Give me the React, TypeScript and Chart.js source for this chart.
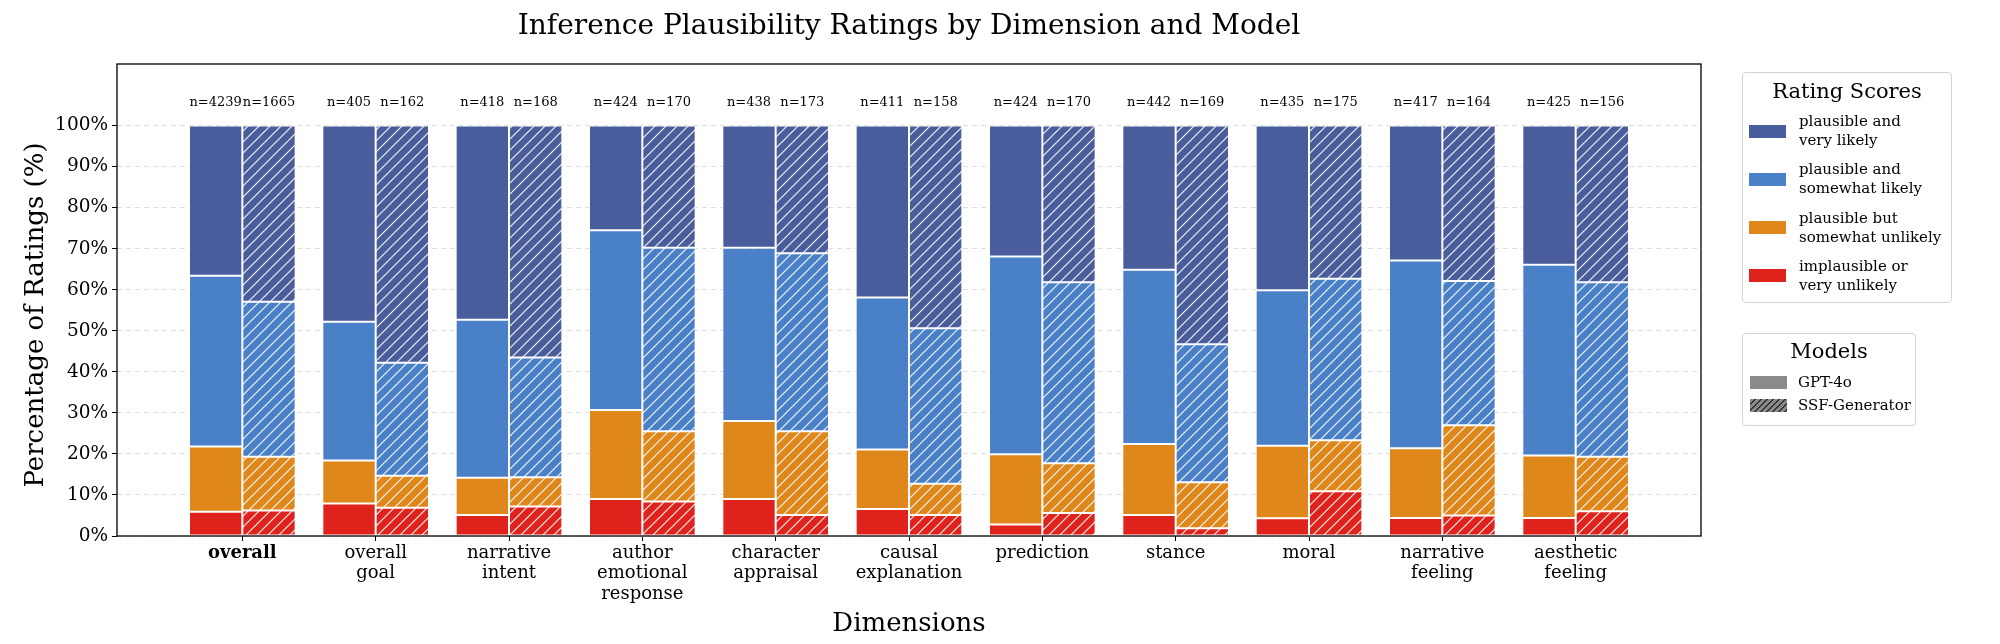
import React, { useEffect, useRef } from 'react';
import { Chart, registerables } from 'chart.js';

Chart.register(...registerables);

const FONT = "'DejaVu Serif', serif";

const chartTitle = 'Inference Plausibility Ratings by Dimension and Model';
const xTitle = 'Dimensions';
const yTitle = 'Percentage of Ratings (%)';

const categories: string[][] = [
  ['overall'],
  ['overall', 'goal'],
  ['narrative', 'intent'],
  ['author', 'emotional', 'response'],
  ['character', 'appraisal'],
  ['causal', 'explanation'],
  ['prediction'],
  ['stance'],
  ['moral'],
  ['narrative', 'feeling'],
  ['aesthetic', 'feeling'],
];

const gptN = [4239, 405, 418, 424, 438, 411, 424, 442, 435, 417, 425];
const ssfN = [1665, 162, 168, 170, 173, 158, 170, 169, 175, 164, 156];

// GPT-4o percentages (bottom to top)
const gptImplausible = [5.9, 7.9, 5.1, 9.0, 9.0, 6.6, 2.8, 5.1, 4.3, 4.4, 4.4];
const gptSomewhatUnlikely = [15.9, 10.5, 9.1, 21.7, 19.0, 14.5, 17.1, 17.3, 17.7, 17.0, 15.2];
const gptSomewhatLikely = [41.6, 33.8, 38.5, 43.8, 42.2, 37.0, 48.2, 42.5, 37.9, 45.7, 46.5];
const gptVeryLikely = [36.6, 47.8, 47.3, 25.5, 29.8, 41.9, 31.9, 35.1, 40.1, 32.9, 33.9];

// SSF-Generator percentages (bottom to top)
const ssfImplausible = [6.2, 6.9, 7.2, 8.4, 5.1, 5.1, 5.6, 1.9, 10.9, 5.0, 6.0];
const ssfSomewhatUnlikely = [13.1, 7.8, 7.1, 17.1, 20.4, 7.6, 12.1, 11.2, 12.4, 22.0, 13.3];
const ssfSomewhatLikely = [37.8, 27.5, 29.2, 44.7, 43.4, 37.9, 44.1, 33.6, 39.4, 35.1, 42.5];
const ssfVeryLikely = [42.9, 57.8, 56.5, 29.8, 31.1, 49.4, 38.2, 53.3, 37.3, 37.9, 38.2];

const yTicks = [0, 10, 20, 30, 40, 50, 60, 70, 80, 90, 100];
const yMax = 115;
const nLabelLevel = 105.6;

const ratingLabels: string[][] = [
  ['plausible and', 'very likely'],
  ['plausible and', 'somewhat likely'],
  ['plausible but', 'somewhat unlikely'],
  ['implausible or', 'very unlikely'],
];
const ratingColors = ['#495c9b', '#4a80c7', '#e0871b', '#e0221c'];
const modelLabels = ['GPT-4o', 'SSF-Generator'];

function makeHatch(bg: string, line: string, lw: number, size: number): CanvasPattern | string {
  const c = document.createElement('canvas');
  c.width = size;
  c.height = size;
  const g = c.getContext('2d');
  if (!g) return bg;
  g.fillStyle = bg;
  g.fillRect(0, 0, size, size);
  g.strokeStyle = line;
  g.lineWidth = lw;
  g.beginPath();
  g.moveTo(-1, size + 1);
  g.lineTo(size + 1, -1);
  g.moveTo(-1, 1);
  g.lineTo(1, -1);
  g.moveTo(size - 1, size + 1);
  g.lineTo(size + 1, size - 1);
  g.stroke();
  return g.createPattern(c, 'repeat') || bg;
}

const framePlugin = {
  id: 'frame',
  afterDraw(chart: any) {
    const { ctx, chartArea } = chart;
    ctx.save();
    ctx.strokeStyle = '#000';
    ctx.lineWidth = 1.3;
    ctx.strokeRect(chartArea.left, chartArea.top, chartArea.right - chartArea.left, chartArea.bottom - chartArea.top);
    ctx.restore();
  },
};

const yTitlePlugin = {
  id: 'yTitle',
  afterDraw(chart: any) {
    const { ctx, chartArea } = chart;
    ctx.save();
    ctx.font = `26px ${FONT}`;
    ctx.fillStyle = '#000';
    ctx.textAlign = 'center';
    ctx.textBaseline = 'middle';
    ctx.translate(36, (chartArea.top + chartArea.bottom) / 2 + 15);
    ctx.rotate(-Math.PI / 2);
    ctx.fillText(yTitle, 0, 0);
    ctx.restore();
  },
};

const nLabelPlugin = {
  id: 'nLabels',
  afterDatasetsDraw(chart: any) {
    const { ctx } = chart;
    const y = chart.scales.y.getPixelForValue(nLabelLevel);
    ctx.save();
    ctx.font = `13px ${FONT}`;
    ctx.fillStyle = '#000';
    ctx.textAlign = 'center';
    ctx.textBaseline = 'middle';
    const gptMeta = chart.getDatasetMeta(3);
    const ssfMeta = chart.getDatasetMeta(7);
    gptN.forEach((n, i) => {
      const el = gptMeta.data[i];
      if (el) ctx.fillText('n=' + n, el.x, y);
    });
    ssfN.forEach((n, i) => {
      const el = ssfMeta.data[i];
      if (el) ctx.fillText('n=' + n, el.x, y);
    });
    ctx.restore();
  },
};

const Legends = () => {
  const box: React.CSSProperties = {
    position: 'absolute',
    border: '1px solid #d4d4d4',
    borderRadius: 4,
    background: 'rgba(255,255,255,0.9)',
    fontFamily: FONT,
    color: '#000',
    boxSizing: 'border-box',
  };
  return (
    <>
      <div style={{ ...box, left: 1742, top: 72, width: 210, height: 231 }}>
        <div style={{ position: 'absolute', left: 0, right: 0, top: 5, textAlign: 'center', fontSize: 21, lineHeight: '26px' }}>
          Rating Scores
        </div>
        {ratingLabels.map((lab, k) => {
          const cy = 58 + k * 48.3;
          return (
            <React.Fragment key={k}>
              <div style={{ position: 'absolute', left: 6, top: cy - 6.5, width: 37, height: 13, background: ratingColors[k] }} />
              <div style={{ position: 'absolute', left: 56, top: cy - 19, fontSize: 15, lineHeight: '19px', whiteSpace: 'nowrap' }}>
                {lab[0]}
                <br />
                {lab[1]}
              </div>
            </React.Fragment>
          );
        })}
      </div>
      <div style={{ ...box, left: 1742, top: 333, width: 174, height: 93 }}>
        <div style={{ position: 'absolute', left: 0, right: 0, top: 4, textAlign: 'center', fontSize: 21, lineHeight: '26px' }}>
          Models
        </div>
        {modelLabels.map((lab, k) => {
          const cy = 48 + k * 23;
          return (
            <React.Fragment key={k}>
              <div
                style={{
                  position: 'absolute',
                  left: 7,
                  top: cy - 6.5,
                  width: 37,
                  height: 13,
                  background: k === 0 ? '#8a8a8a' : 'repeating-linear-gradient(135deg, #8a8a8a 0px, #8a8a8a 3px, #333 3px, #333 4.3px)',
                }}
              />
              <div style={{ position: 'absolute', left: 55, top: cy - 10, fontSize: 15, lineHeight: '20px', whiteSpace: 'nowrap' }}>
                {lab}
              </div>
            </React.Fragment>
          );
        })}
      </div>
    </>
  );
};

const App = () => {
  const ref = useRef<HTMLCanvasElement>(null);

  useEffect(() => {
    const canvas = ref.current;
    if (!canvas) return;
    const gptSeries = [gptImplausible, gptSomewhatUnlikely, gptSomewhatLikely, gptVeryLikely];
    const ssfSeries = [ssfImplausible, ssfSomewhatUnlikely, ssfSomewhatLikely, ssfVeryLikely];
    const colorsBottomUp = [ratingColors[3], ratingColors[2], ratingColors[1], ratingColors[0]];
    const namesBottomUp = [ratingLabels[3], ratingLabels[2], ratingLabels[1], ratingLabels[0]].map((l) => l.join(' '));

    const common = {
      borderColor: 'rgba(255,255,255,0.75)',
      borderWidth: 1,
      borderSkipped: false as const,
      categoryPercentage: 0.8,
      barPercentage: 1.0,
    };

    const datasets: any[] = [
      ...gptSeries.map((s, k) => ({
        ...common,
        label: namesBottomUp[k] + ' (GPT-4o)',
        stack: 'gpt',
        data: s.map((v, i) => ({ x: i, y: v })),
        backgroundColor: colorsBottomUp[k],
      })),
      ...ssfSeries.map((s, k) => ({
        ...common,
        label: namesBottomUp[k] + ' (SSF-Generator)',
        stack: 'ssf',
        data: s.map((v, i) => ({ x: i, y: v })),
        backgroundColor: makeHatch(colorsBottomUp[k], 'rgba(255,255,255,0.92)', 1.2, 11),
      })),
    ];

    const chart = new Chart(canvas, {
      type: 'bar',
      data: { datasets },
      plugins: [framePlugin, nLabelPlugin, yTitlePlugin],
      options: {
        responsive: false,
        animation: false,
        events: [],
        layout: { padding: { left: 0, right: 299, top: 0, bottom: 0 } },
        plugins: {
          legend: { display: false },
          tooltip: { enabled: false },
          title: {
            display: true,
            text: chartTitle,
            fullSize: false,
            color: '#000',
            font: { family: FONT, size: 28, weight: 'normal' as any, lineHeight: 1.2 },
            padding: { top: 10, bottom: 20.4 },
          },
        },
        scales: {
          x: {
            type: 'linear',
            min: -0.94,
            max: 10.94,
            offset: false,
            afterBuildTicks: (scale: any) => {
              scale.ticks = categories.map((_, i) => ({ value: i }));
            },
            afterFit: (scale: any) => {
              scale.height = 108;
            },
            grid: { display: true, offset: false, drawOnChartArea: false, drawTicks: true, tickLength: 5, tickColor: '#000', tickWidth: 1 },
            border: { display: false },
            ticks: {
              autoSkip: false,
              maxRotation: 0,
              minRotation: 0,
              padding: 2,
              color: '#000',
              font: (ctx: any) => ({ family: FONT, size: 18, lineHeight: 1.14, weight: ctx.tick && ctx.tick.value === 0 ? 'bold' : 'normal' }),
              callback: (value: any) => categories[Math.round(Number(value))] || '',
            },
            title: {
              display: true,
              text: xTitle,
              color: '#000',
              font: { family: FONT, size: 26, lineHeight: 1.2 },
              padding: { top: 0, bottom: 4.5 },
            },
          },
          y: {
            type: 'linear',
            stacked: true,
            min: 0,
            max: yMax,
            afterBuildTicks: (scale: any) => {
              scale.ticks = yTicks.map((v) => ({ value: v }));
            },
            afterFit: (scale: any) => {
              scale.width = 117;
            },
            grid: { color: '#dedede', lineWidth: 1, drawTicks: true, tickLength: 5, tickColor: '#000', tickWidth: 1 },
            border: { display: false, dash: [5, 4] },
            ticks: {
              padding: 4,
              color: '#000',
              font: { family: FONT, size: 18.5 },
              callback: (value: any) => value + '%',
            },
            title: { display: false },
          },
        },
      } as any,
    });
    return () => chart.destroy();
  }, []);

  return (
    <div style={{ position: 'absolute', left: 0, top: 0, width: 2000, height: 644, background: '#fff' }}>
      <canvas ref={ref} width={2000} height={644} style={{ display: 'block', width: 2000, height: 644 }} />
      <Legends />
    </div>
  );
};

export default App;
